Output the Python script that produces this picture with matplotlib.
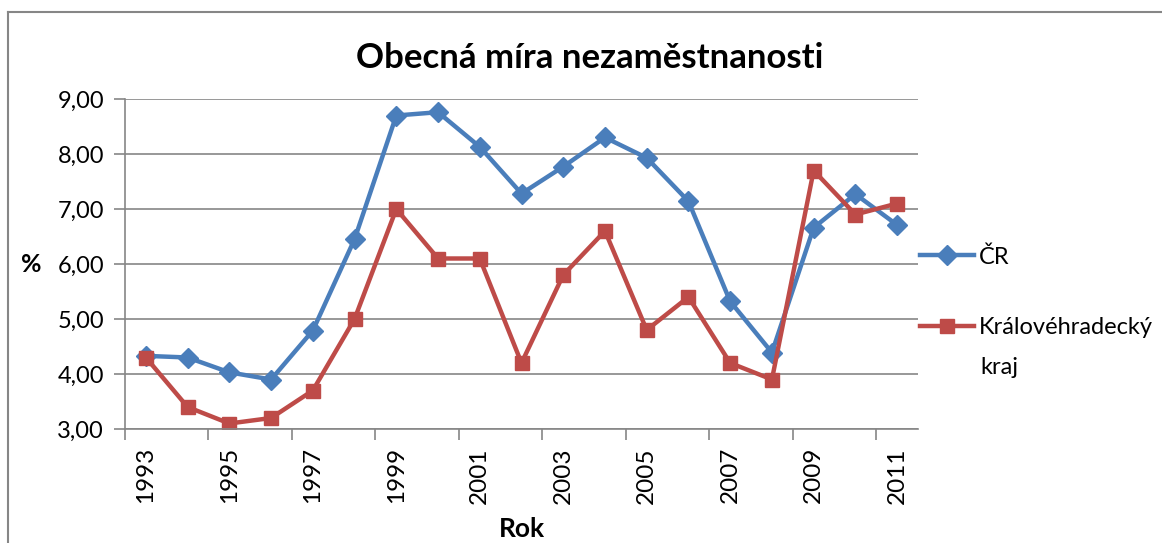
import numpy as np
import matplotlib
matplotlib.use("Agg")
import matplotlib.pyplot as plt
from matplotlib.lines import Line2D

# data
roky = ["1993", "1994", "1995", "1996", "1997", "1998", "1999", "2000", "2001", "2002",
        "2003", "2004", "2005", "2006", "2007", "2008", "2009", "2010", "2011"]
cr = [4.33, 4.30, 4.03, 3.90, 4.79, 6.45, 8.70, 8.76, 8.13, 7.28,
      7.77, 8.30, 7.93, 7.14, 5.32, 4.39, 6.66, 7.27, 6.71]
kraj = [4.3, 3.4, 3.1, 3.2, 3.7, 5.0, 7.0, 6.1, 6.1, 4.2,
        5.8, 6.6, 4.8, 5.4, 4.2, 3.9, 7.7, 6.9, 7.1]

plt.rcParams['font.family'] = ['Lato', 'DejaVu Sans']
seda = '#868686'

fig = plt.figure(figsize=(11.62, 5.43), dpi=100)
ax = fig.add_axes([125 / 1162, 1 - 429 / 543, (918 - 125) / 1162, (429 - 99) / 543])

x = np.arange(len(roky))
ax.plot(x, cr, color='#4A7EBB', lw=3.2, marker='D', ms=10, label='ČR')
ax.plot(x, kraj, color='#BE4B48', lw=3.2, marker='s', ms=10, label='Královéhradecký')

ax.set_xlim(-0.5, len(roky) - 0.5)
ax.set_ylim(3, 9)
ax.set_yticks(np.arange(3, 9.01, 1))
ax.set_yticklabels([f"{v:.2f}".replace('.', ',') for v in np.arange(3, 9.01, 1)], fontsize=17)
ax.yaxis.grid(True, color=seda, lw=1.2)
ax.set_axisbelow(True)

# popisky jen kazdy druhy rok, carky na hranicich
ax.set_xticks(x[::2])
ax.set_xticklabels(roky[::2], rotation=90, fontsize=17.5)
ax.set_xticks(np.arange(-0.5, len(roky) - 0.5, 2), minor=True)
ax.tick_params(axis='x', which='major', length=0, pad=13)
ax.tick_params(axis='x', which='minor', length=8, color=seda, width=1.2, direction='out')
ax.tick_params(axis='y', length=8, color=seda, width=1.2, pad=7)

for s in ['top', 'right']:
    ax.spines[s].set_visible(False)
for s in ['left', 'bottom']:
    ax.spines[s].set_color(seda)
    ax.spines[s].set_linewidth(1.2)

ax.set_xlabel('Rok', fontsize=19, fontweight='bold', labelpad=10)
ax.set_ylabel('%', fontsize=18, fontweight='bold', rotation=0, ha='center', va='center')
ax.yaxis.set_label_coords(31 / 1162, 1 - 264 / 543, transform=fig.transFigure)
fig.text(590 / 1162, 1 - 58 / 543, 'Obecná míra nezaměstnanosti', ha='center', va='center',
         fontsize=25, fontweight='bold')

ax.legend(loc='upper left', bbox_to_anchor=(920 / 1162, 1 - 246 / 543), bbox_transform=fig.transFigure,
          frameon=False, fontsize=17, handlelength=2.3, handletextpad=0.2, labelspacing=2.1,
          borderaxespad=0, borderpad=0)
fig.text(980 / 1162, 1 - 367 / 543, 'kraj', ha='left', va='center', fontsize=17)

# ramecek grafu
fig.add_artist(Line2D([8 / 1162, 8 / 1162], [0, 1 - 12 / 543], transform=fig.transFigure, color=seda, lw=1.5))
fig.add_artist(Line2D([8 / 1162, 1], [1 - 12 / 543, 1 - 12 / 543], transform=fig.transFigure, color=seda, lw=1.5))

fig.savefig('out.png', dpi=100)
